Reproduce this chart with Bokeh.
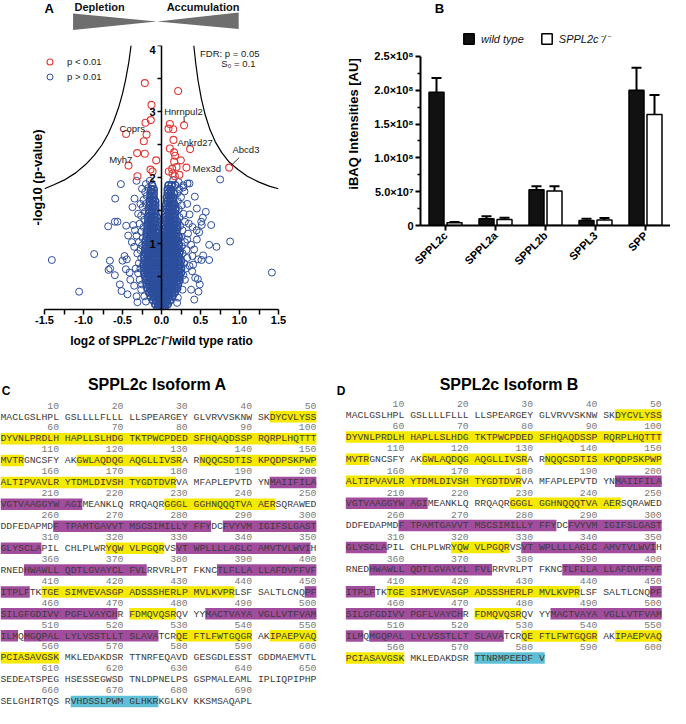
import math
from bokeh.plotting import figure
from bokeh.models import (ColumnDataSource, Range1d, FactorRange, LinearAxis, FixedTicker,
                          Legend, LegendItem, NumeralTickFormatter)
from bokeh.layouts import column, row
from bokeh.transform import dodge
from bokeh.core.properties import value
from bokeh.embed import file_html
from bokeh.resources import INLINE

SANS = "Liberation Sans"
MONO = "Liberation Mono"
RED = "#e03a36"
BLUE = "#2c4e9c"

# ================= Panel A data (volcano) =================
x_ticks = [-1.5, -1.0, -0.5, 0.0, 0.5, 1.0, 1.5]
x_minor_ticks = [-1.25, -0.75, -0.25, 0.25, 0.75, 1.25]
y_ticks = [1, 2, 3, 4]
y_minor_ticks = [0.5, 1.5, 2.5, 3.5]

# significant proteins (p < 0.01)
sig_x = [-0.214, 0.214, -0.128, -0.137, -0.205, 0.107, 0.29, 0.15, 0.09, -0.453, -0.192, -0.227,
         0.154, 0.107, 0.367, -0.312, -0.214, 0.162, 0.175, -0.068, 0.248, 0.162, -0.423, 0.192,
         0.32, 0.137, -0.141, -0.115, 0.094, 0.141, 0.23, -0.308, 0.171, 0.868]
sig_y = [3.43, 3.31, 3.10, 2.87, 2.83, 2.81, 2.79, 2.73, 2.74, 2.66, 2.65, 2.55,
         2.57, 2.44, 2.43, 2.37, 2.36, 2.38, 2.33, 2.26, 2.26, 2.24, 2.18, 2.16,
         2.15, 2.13, 2.12, 2.09, 2.09, 2.06, 2.04, 2.02, 2.02, 2.15]

# non-significant proteins: isolated points
outlier_pts = [(-1.406, 0.75), (-1.056, 0.27), (-0.863, 0.84), (-0.684, 1.26), (-0.598, 1.33),
               (-0.564, 1.33), (-0.594, 1.68), (-0.521, 1.90), (-0.662, 0.74), (-0.679, 0.60),
               (-0.658, 0.62), (-0.598, 0.52), (-0.513, 0.28), (-0.534, 0.38), (-0.5, 0.74),
               (-0.453, 1.27), (-0.427, 1.12), (-0.372, 1.55), (-0.346, 1.68), (-0.363, 1.28),
               (-0.474, 0.81), (-0.444, 0.76), (-0.457, 0.61), (-0.41, 0.56), (-0.35, 0.36),
               (-0.436, 0.23), (-0.32, 0.2), (-0.308, 0.11), (-0.38, 1.02), (-0.32, 1.95),
               (-0.4, 0.45), (0.752, 1.97), (0.359, 1.91), (0.427, 1.71), (0.453, 1.53),
               (0.568, 1.48), (0.53, 1.39), (0.509, 1.33), (0.637, 1.28), (0.517, 1.28),
               (0.359, 1.44), (0.88, 1.03), (0.705, 0.95), (0.534, 0.82), (0.611, 0.75),
               (1.415, 0.56), (0.513, 0.75), (0.453, 1.06), (0.419, 0.91), (0.466, 0.46),
               (0.491, 0.38), (0.474, 0.27), (0.393, 0.58), (0.406, 0.68), (0.329, 1.06),
               (0.295, 1.79), (0.278, 1.88), (0.45, 1.2), (0.38, 0.3), (0.42, 0.15),
               (0.397, 1.25), (0.483, 1.17), (0.611, 0.98), (0.397, 0.81), (0.47, 0.76),
               (0.432, 0.48), (0.333, 1.91), (0.175, 1.89)]

# non-significant proteins: medium density fringe of the cloud
fringe_pts = [(-0.26, 0.3), (-0.28, 0.45), (-0.3, 0.55), (-0.27, 0.62), (-0.29, 0.7), (-0.26, 0.78),
              (-0.31, 0.85), (-0.27, 0.9), (-0.25, 0.97), (-0.29, 1.02), (-0.24, 1.08), (-0.32, 1.12),
              (-0.26, 1.18), (-0.23, 1.25), (-0.28, 1.3), (-0.22, 1.36), (-0.26, 1.42), (-0.21, 1.48),
              (-0.24, 1.55), (-0.2, 1.6), (-0.23, 1.66), (-0.19, 1.72), (-0.21, 1.78), (-0.17, 1.84),
              (-0.2, 1.9), (-0.15, 1.95), (-0.22, 0.2), (-0.2, 0.12), (-0.25, 0.38), (-0.33, 0.62),
              (-0.35, 0.95), (-0.34, 1.2), (-0.3, 1.45), (-0.27, 1.6), (-0.25, 1.83),
              (0.27, 0.3), (0.3, 0.45), (0.28, 0.52), (0.31, 0.62), (0.29, 0.7), (0.33, 0.78),
              (0.27, 0.85), (0.32, 0.9), (0.26, 0.96), (0.3, 1.02), (0.25, 1.1), (0.34, 1.15),
              (0.27, 1.2), (0.24, 1.27), (0.3, 1.33), (0.23, 1.4), (0.28, 1.45), (0.22, 1.52),
              (0.26, 1.58), (0.21, 1.64), (0.25, 1.7), (0.2, 1.76), (0.23, 1.82), (0.18, 1.88),
              (0.22, 1.93), (0.15, 1.96), (0.21, 0.18), (0.2, 0.1), (0.36, 0.66), (0.38, 0.98),
              (0.35, 1.3), (0.33, 1.6), (0.28, 1.85)]

# non-significant proteins: dense core, one list of x values per -log10(p) level
core_levels = [0.03, 0.08, 0.14, 0.20, 0.26, 0.32, 0.38, 0.44, 0.50, 0.56, 0.62, 0.68, 0.74, 0.80,
               0.86, 0.92, 0.98, 1.04, 1.10, 1.16, 1.22, 1.28, 1.34, 1.40, 1.46, 1.52, 1.58, 1.64,
               1.70, 1.76, 1.82, 1.88]
core_rows = [
    [-0.05, -0.02, 0.01, 0.04],
    [-0.08, -0.04, -0.01, 0.02, 0.05, 0.08],
    [-0.11, -0.07, -0.03, 0.0, 0.03, 0.07, 0.11],
    [-0.14, -0.10, -0.06, -0.02, 0.02, 0.06, 0.10, 0.14],
    [-0.16, -0.12, -0.08, -0.04, -0.01, 0.02, 0.06, 0.10, 0.14, 0.17],
    [-0.18, -0.14, -0.10, -0.06, -0.02, 0.01, 0.05, 0.09, 0.13, 0.17, 0.20],
    [-0.19, -0.15, -0.11, -0.07, -0.03, 0.01, 0.05, 0.09, 0.13, 0.17, 0.21],
    [-0.20, -0.16, -0.12, -0.08, -0.04, 0.0, 0.04, 0.08, 0.12, 0.16, 0.20, 0.23],
    [-0.21, -0.17, -0.13, -0.09, -0.05, -0.01, 0.03, 0.07, 0.11, 0.15, 0.19, 0.23],
    [-0.22, -0.18, -0.14, -0.10, -0.06, -0.02, 0.02, 0.06, 0.10, 0.14, 0.18, 0.22, 0.25],
    [-0.22, -0.18, -0.14, -0.10, -0.06, -0.02, 0.02, 0.06, 0.10, 0.14, 0.18, 0.22, 0.25],
    [-0.23, -0.19, -0.15, -0.11, -0.07, -0.03, 0.01, 0.05, 0.09, 0.13, 0.17, 0.21, 0.24],
    [-0.22, -0.18, -0.14, -0.10, -0.06, -0.02, 0.02, 0.06, 0.10, 0.14, 0.18, 0.22, 0.25],
    [-0.22, -0.18, -0.14, -0.10, -0.06, -0.02, 0.02, 0.06, 0.10, 0.14, 0.18, 0.22],
    [-0.21, -0.17, -0.13, -0.09, -0.05, -0.01, 0.03, 0.07, 0.11, 0.15, 0.19, 0.23],
    [-0.21, -0.17, -0.13, -0.09, -0.05, -0.02, 0.02, 0.06, 0.10, 0.14, 0.18, 0.22],
    [-0.20, -0.16, -0.12, -0.08, -0.04, 0.02, 0.06, 0.10, 0.14, 0.18, 0.22],
    [-0.20, -0.16, -0.12, -0.08, -0.04, 0.02, 0.06, 0.10, 0.14, 0.18, 0.21],
    [-0.19, -0.15, -0.11, -0.07, -0.03, 0.03, 0.07, 0.11, 0.15, 0.19, 0.22],
    [-0.19, -0.15, -0.11, -0.07, -0.04, 0.03, 0.07, 0.11, 0.15, 0.19],
    [-0.18, -0.14, -0.10, -0.06, 0.04, 0.08, 0.12, 0.16, 0.20],
    [-0.18, -0.14, -0.10, -0.06, 0.04, 0.08, 0.12, 0.16, 0.20],
    [-0.17, -0.13, -0.09, -0.06, 0.05, 0.09, 0.13, 0.17, 0.20],
    [-0.17, -0.13, -0.09, -0.06, 0.05, 0.09, 0.13, 0.17],
    [-0.16, -0.12, -0.08, 0.05, 0.09, 0.13, 0.17],
    [-0.16, -0.12, -0.08, 0.06, 0.10, 0.14, 0.18],
    [-0.15, -0.11, -0.08, 0.06, 0.10, 0.14, 0.17],
    [-0.15, -0.11, -0.08, 0.07, 0.11, 0.15],
    [-0.14, -0.10, 0.07, 0.11, 0.15],
    [-0.14, -0.10, 0.08, 0.12, 0.16],
    [-0.13, -0.10, 0.08, 0.12],
    [-0.12, 0.09, 0.13],
]

# FDR threshold curves (p = 0.05, S0 = 0.1)
left_curve_x = [-0.39, -0.42, -0.46, -0.50, -0.55, -0.61, -0.68, -0.76, -0.86, -0.97, -1.10, -1.25, -1.38, -1.50]
left_curve_y = [4.0, 3.74, 3.48, 3.27, 3.06, 2.86, 2.67, 2.50, 2.34, 2.20, 2.07, 1.96, 1.89, 1.83]
right_curve_x = [0.414, 0.44, 0.47, 0.51, 0.56, 0.62, 0.69, 0.77, 0.87, 0.98, 1.10, 1.25, 1.38, 1.50]
right_curve_y = [4.0, 3.72, 3.46, 3.20, 2.95, 2.73, 2.54, 2.38, 2.23, 2.12, 2.02, 1.93, 1.87, 1.83]

gene_names = ["Hnrnpul2", "Coprs", "Ankrd27", "Myh7", "Mex3d", "Abcd3"]
gene_label_x = [0.035, -0.538, 0.205, -0.671, 0.397, 0.91]
gene_label_y = [3.0, 2.74, 2.53, 2.27, 2.14, 2.42]
leader_x0 = [0.29, 0.996]
leader_y0 = [2.93, 2.30]
leader_x1 = [0.29, 0.89]
leader_y1 = [2.84, 2.18]

fdr_text = ["FDR: p = 0.05", "S\u2080 = 0.1"]
fdr_x = [1.256, 1.205]
fdr_y = [3.88, 3.73]

# ================= Panel B data (bars) =================
categories = ["SPPL2c", "SPPL2a", "SPPL2b", "SPPL3", "SPP"]
wt_vals = [1.97e8, 1.0e7, 5.3e7, 7.4e6, 2.0e8]
wt_err = [2.1e7, 3.5e6, 5.0e6, 2.4e6, 3.3e7]
ko_vals = [4.0e6, 8.9e6, 5.1e7, 8.0e6, 1.64e8]
ko_err = [1.0e6, 2.5e6, 7.0e6, 3.0e6, 2.9e7]
bar_y_ticks = [0, 50000000, 100000000, 150000000, 200000000, 250000000]
bar_y_minor = [25000000, 75000000, 125000000, 175000000, 225000000]
bar_y_labels = ["0", "5.0\u00d710\u2077", "1.0\u00d710\u2078", "1.5\u00d710\u2078",
                "2.0\u00d710\u2078", "2.5\u00d710\u2078"]

# ================= Panels C / D data (sequences) =================
isoform_a_rows = [
    "MACLGSLHPL GSLLLLFLLL LLSPEARGEY GLVRVVSKNW SKDYCVLYSS",
    "DYVNLPRDLH HAPLLSLHDG TKTPWCPDED SFHQAQDSSP RQRPLHQTTT",
    "MVTRGNCSFY AKGWLAQDQG AQGLLIVSRA RNQQCSDTIS KPQDPSKPWP",
    "ALTIPVAVLR YTDMLDIVSH TYGDTDVRVA MFAPLEPVTD YNMAIIFILA",
    "VGTVAAGGYW AGIMEANKLQ RRQAQRGGGL GGHNQQQTVA AERSQRAWED",
    "DDFEDAPMDF TPAMTGAVVT MSCSIMILLY FFYDCFVYVM IGIFSLGAST",
    "GLYSCLAPIL CHLPLWRYQW VLPGQRVSVT WPLLLLAGLC AMVTVLWVIH",
    "RNEDHWAWLL QDTLGVAYCL FVLRRVRLPT FKNCTLFLLA LLAFDVFFVF",
    "ITPLFTKTGE SIMVEVASGP ADSSSHERLP MVLKVPRLSF SALTLCNQPF",
    "SILGFGDIVV PGFLVAYCHR FDMQVQSRQV YYMACTVAYA VGLLVTFVAM",
    "ILMQMGQPAL LYLVSSTLLT SLAVATCRQE FTLFWTGQGR AKIPAEPVAQ",
    "PCIASAVGSK MKLEDAKDSR TTNRFEQAVD GESGDLESST GDDMAEMVTL",
    "SEDEATSPEG HSESSEGWSD TNLDPNELPS GSPMALEAML IPLIQPIPHP",
    "SELGHIRTQS RVHDSSLPWM GLHKRKGLKV KKSMSAQAPL",
]
isoform_b_rows = isoform_a_rows[:11] + ["PCIASAVGSK MKLEDAKDSR TTNRMPEEDF V"]
numbers_per_row_a = [5] * 13 + [4]
numbers_per_row_b = [5] * 12

YELLOW = "#f5e900"
PURPLE = "#a24c9d"
CYAN = "#5fbfd6"
common_hl_start = [43, 113, 132, 227, 318, 408, 471, 529, 543, 193, 260, 286, 329, 355, 385, 449, 483, 505]
common_hl_end = [104, 129, 178, 243, 326, 437, 478, 540, 560, 213, 283, 307, 349, 373, 405, 469, 503, 525]
common_hl_color = [YELLOW] * 9 + [PURPLE] * 9
hl_a_start = common_hl_start + [662]
hl_a_end = common_hl_end + [675]
hl_a_color = common_hl_color + [CYAN]
hl_b_start = common_hl_start + [571]
hl_b_end = common_hl_end + [581]
hl_b_color = common_hl_color + [CYAN]


def clean(p):
    p.outline_line_color = None
    p.background_fill_color = "white"
    p.border_fill_color = "white"
    for g in p.grid:
        g.visible = False


def style_axis(ax, label_size="11px"):
    ax.axis_line_color = "black"
    ax.major_tick_line_color = "black"
    ax.minor_tick_line_color = "black"
    ax.major_label_text_font = SANS
    ax.major_label_text_font_style = "bold"
    ax.major_label_text_font_size = label_size
    ax.major_label_text_color = "black"
    ax.axis_label_text_font = SANS
    ax.axis_label_text_font_style = "bold"
    ax.axis_label_text_color = "black"


def blank(w, h, xr, yr):
    f = figure(width=w, height=h, x_range=xr, y_range=yr, output_backend="svg",
               toolbar_location=None, min_border=0, x_axis_location=None, y_axis_location=None)
    clean(f)
    return f


# ---------------- header above the volcano ----------------
wedge_xs = [[-1.54, -1.54, -0.005], [1.5, 1.5, 0.005]]
wedge_ys = [[13, 29.5, 21], [12, 28.5, 21]]

hdr = blank(335, 45, Range1d(-2.064, 2.231), Range1d(45, 0))
hdr.patches(xs=wedge_xs, ys=wedge_ys, fill_color="#6e6e6e", line_color=None)
hdr.text(x=[-2.064], y=[0], text=["A"], text_font=value(SANS), text_font_style="bold",
         text_font_size="13px", text_baseline="top", text_align="left", text_color="black")
hdr.text(x=[-1.513, 1.513], y=[0, 0], text=["Depletion", "Accumulation"], text_font=value(SANS),
         text_font_style="bold", text_font_size="11px", text_baseline="top",
         text_align=["left", "right"], text_color="#111111")

# ---------------- volcano ----------------
vol = figure(width=335, height=307, x_range=Range1d(-1.5, 1.5), y_range=Range1d(0, 4),
             output_backend="svg", toolbar_location=None,
             min_border_left=44, min_border_right=57, min_border_top=0, min_border_bottom=43)
clean(vol)

xa = vol.xaxis[0]
style_axis(xa)
xa.ticker = FixedTicker(ticks=x_ticks, minor_ticks=x_minor_ticks)
xa.formatter = NumeralTickFormatter(format="0.0")
xa.major_tick_out = 5
xa.major_tick_in = 0
xa.minor_tick_out = 5
xa.minor_tick_in = 0
xa.axis_line_width = 1.5
xa.major_tick_line_width = 1.5
xa.minor_tick_line_width = 1.5
xa.major_label_standoff = 1
xa.axis_label = "log2 of SPPL2c\u207b/\u207b/wild type ratio"
xa.axis_label_text_font_size = "12px"
xa.axis_label_standoff = 7

ya = vol.yaxis[0]
style_axis(ya)
ya.ticker = FixedTicker(ticks=[])
ya.axis_line_color = None
ya.major_tick_out = 0
ya.major_tick_in = 0
ya.minor_tick_out = 0
ya.minor_tick_in = 0
ya.axis_label = "-log10 (p-value)"
ya.axis_label_text_font_size = "13px"
ya.axis_label_standoff = 0

yfix = LinearAxis(fixed_location=0, ticker=FixedTicker(ticks=y_ticks, minor_ticks=y_minor_ticks),
                  bounds=(0, 4))
style_axis(yfix)
yfix.axis_line_width = 1.5
yfix.major_tick_line_width = 1.5
yfix.minor_tick_line_width = 1.5
yfix.major_tick_out = 4
yfix.major_tick_in = 0
yfix.minor_tick_out = 4
yfix.minor_tick_in = 0
yfix.major_label_standoff = 2
vol.add_layout(yfix, "left")

core_x = [x for xs in core_rows for x in xs]
core_y = [lvl for lvl, xs in zip(core_levels, core_rows) for _ in xs]
vol.scatter(core_x, core_y, marker="circle", size=7, fill_color=None, line_color=BLUE,
            line_width=1.8)
vol.scatter([p[0] for p in fringe_pts], [p[1] for p in fringe_pts], marker="circle", size=7,
            fill_color=None, line_color=BLUE, line_width=1)
r_out = vol.scatter([p[0] for p in outlier_pts], [p[1] for p in outlier_pts], marker="circle",
                    size=7, fill_color=None, line_color=BLUE, line_width=1)
vol.line(left_curve_x, left_curve_y, line_color="black", line_width=1.2)
vol.line(right_curve_x, right_curve_y, line_color="black", line_width=1.2)
r_sig = vol.scatter(sig_x, sig_y, marker="circle", size=7, fill_color=None, line_color=RED,
                    line_width=1.1)
vol.segment(x0=leader_x0, y0=leader_y0, x1=leader_x1, y1=leader_y1, line_color="black",
            line_width=0.8)
vol.text(x=gene_label_x, y=gene_label_y, text=gene_names, text_font=value(SANS),
         text_font_size="9.5px", text_baseline="middle", text_align="left", text_color="#1a1a1a")
vol.text(x=fdr_x, y=fdr_y, text=fdr_text, text_font=value(SANS), text_font_size="9.5px",
         text_baseline="middle", text_align="right", text_color="#1a1a1a")

vleg = Legend(items=[LegendItem(label="p < 0.01", renderers=[r_sig]),
                     LegendItem(label="p > 0.01", renderers=[r_out])],
              location=(-2, 225), orientation="vertical", padding=0, margin=0, spacing=0,
              glyph_width=15, glyph_height=15, label_height=15, label_standoff=10,
              label_text_font=SANS, label_text_font_size="9.5px", label_text_color="#1a1a1a",
              border_line_color=None, background_fill_alpha=0)
vol.add_layout(vleg)

# ---------------- bar chart ----------------
bhdr = blank(335, 14, Range1d(0, 335), Range1d(14, 0))
bhdr.text(x=[19], y=[0], text=["B"], text_font=value(SANS), text_font_style="bold",
          text_font_size="13px", text_baseline="top", text_align="left", text_color="black")

bars = figure(width=335, height=338, x_range=FactorRange(*categories), y_range=Range1d(0, 3.0e8),
              output_backend="svg", toolbar_location=None,
              min_border_left=85, min_border_right=0, min_border_top=8, min_border_bottom=127)
clean(bars)
bsrc = ColumnDataSource(dict(cat=categories, wt=wt_vals, ko=ko_vals,
                             wt_top=[v + e for v, e in zip(wt_vals, wt_err)],
                             ko_top=[v + e for v, e in zip(ko_vals, ko_err)]))
OFF = 0.18
for off, val, top in [(-OFF, "wt", "wt_top"), (OFF, "ko", "ko_top")]:
    xd = dodge("cat", off, range=bars.x_range)
    bars.segment(x0=xd, y0=val, x1=xd, y1=top, source=bsrc, line_color="black", line_width=2)
    bars.scatter(x=xd, y=top, source=bsrc, marker="dash", size=10, line_color="black",
                 line_width=2)
rw = bars.vbar(x=dodge("cat", -OFF, range=bars.x_range), top="wt", width=0.3, source=bsrc,
               fill_color="#111111", line_color="black", line_width=1.5)
rk = bars.vbar(x=dodge("cat", OFF, range=bars.x_range), top="ko", width=0.3, source=bsrc,
               fill_color="white", line_color="black", line_width=1.5)

by = bars.yaxis[0]
style_axis(by)
by.ticker = FixedTicker(ticks=bar_y_ticks, minor_ticks=bar_y_minor)
by.major_label_overrides = {t: s for t, s in zip(bar_y_ticks, bar_y_labels)}
by.bounds = (0, 2.5e8)
by.axis_line_width = 2
by.major_tick_line_width = 2
by.minor_tick_line_width = 1.5
by.major_tick_out = 5
by.major_tick_in = 0
by.minor_tick_out = 3
by.minor_tick_in = 0
by.major_label_standoff = 2
by.axis_label = "iBAQ Intensities [AU]"
by.axis_label_text_font_size = "13px"
by.axis_label_standoff = 10

bx = bars.xaxis[0]
style_axis(bx)
bx.major_label_orientation = math.pi / 4
bx.axis_line_width = 2
bx.major_tick_line_width = 2
bx.major_tick_out = 5
bx.major_tick_in = 0
bx.major_label_standoff = 3

bleg = Legend(items=[LegendItem(label="wild type", renderers=[rw]),
                     LegendItem(label="SPPL2c\u207b/\u207b", renderers=[rk])],
              location=(42, 179), orientation="horizontal", padding=0, margin=0, spacing=16,
              glyph_width=13, glyph_height=13, label_height=13, label_standoff=6,
              label_text_font=SANS, label_text_font_style="italic", label_text_font_size="11px",
              label_text_color="#111111", border_line_color=None, background_fill_alpha=0)
bars.add_layout(bleg)

# ---------------- sequence panels ----------------
CW = 5.85  # px per monospace character


def col_of(res):
    p = (res - 1) % 50
    return p + p // 10


def seq_panel(rows, n_numbers, hs, he, hc, title, letter, lead_px, first_y, pitch,
              title_center, num_off):
    W, H = 335, 356
    x0 = -lead_px / CW
    f = blank(W, H, Range1d(x0, x0 + W / CW), Range1d(H, 0))
    # highlight boxes, split at row breaks
    L, R, T, B, C = [], [], [], [], []
    for s, e, c in zip(hs, he, hc):
        for r in range((s - 1) // 50, (e - 1) // 50 + 1):
            rs = max(s, r * 50 + 1)
            re_ = min(e, r * 50 + 50)
            yc = first_y + r * pitch
            L.append(col_of(rs))
            R.append(col_of(re_) + 1)
            T.append(yc - 6)
            B.append(yc + 5.5)
            C.append(c)
    f.quad(left=L, right=R, top=T, bottom=B, fill_color=C, line_color=None)
    ry = [first_y + i * pitch for i in range(len(rows))]
    f.text(x=[0] * len(rows), y=ry, text=rows, text_font=value(MONO), text_font_size="9.75px",
           text_baseline="middle", text_align="left", text_color="#3c3c3c")
    nx, ny, nt = [], [], []
    for i, n in enumerate(n_numbers):
        for k in range(n):
            nx.append(k * 11 + 10)
            ny.append(ry[i] - num_off)
            nt.append(str(50 * i + 10 * (k + 1)))
    f.text(x=nx, y=ny, text=nt, text_font=value(MONO), text_font_size="9.75px",
           text_baseline="middle", text_align="right", text_color="#7a7a7a")
    f.text(x=[title_center], y=[31.7], text=[title], text_font=value(SANS),
           text_font_style="bold", text_font_size="16px", text_baseline="middle",
           text_align="center", text_color="black")
    f.text(x=[x0 + 0.2], y=[38], text=[letter], text_font=value(SANS), text_font_style="bold",
           text_font_size="12px", text_baseline="middle", text_align="left", text_color="black")
    return f


seqA = seq_panel(isoform_a_rows, numbers_per_row_a, hl_a_start, hl_a_end, hl_a_color,
                 "SPPL2c Isoform A", "C", 0.0, 64.5, 21.9, 26.8, 11.5)
seqB = seq_panel(isoform_b_rows, numbers_per_row_b, hl_b_start, hl_b_end, hl_b_color,
                 "SPPL2c Isoform B", "D", 10.3, 62.7, 22.1, 27.9, 11.0)

layout = column(row(column(hdr, vol), column(bhdr, bars)), row(seqA, seqB))
open("out.html", "w").write(file_html(layout, INLINE))
